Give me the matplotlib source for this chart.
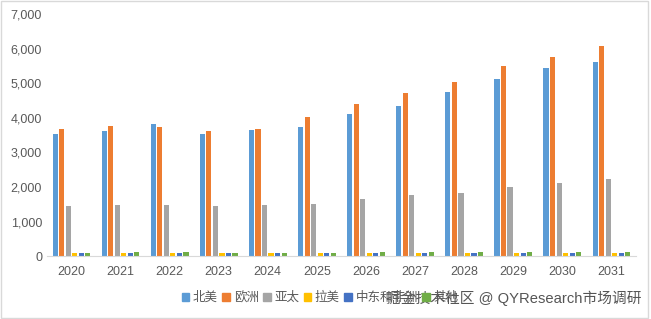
import numpy as np
import matplotlib.pyplot as plt
from matplotlib.patches import Patch, Rectangle
from matplotlib.ticker import FuncFormatter

plt.rcParams['font.family'] = ['Liberation Sans', 'Noto Sans CJK SC', 'DejaVu Sans']

years = ['2020', '2021', '2022', '2023', '2024', '2025', '2026', '2027', '2028', '2029', '2030', '2031']
regions = ['北美', '欧洲', '亚太', '拉美', '中东和非洲', '其他']

north_america = [3520, 3610, 3810, 3520, 3640, 3720, 4100, 4330, 4740, 5120, 5440, 5610]
europe = [3690, 3750, 3720, 3610, 3690, 4010, 4390, 4710, 5030, 5490, 5760, 6080]
asia_pacific = [1450, 1480, 1480, 1450, 1480, 1510, 1660, 1770, 1830, 2010, 2120, 2240]
latin_america = [85, 85, 85, 85, 85, 85, 85, 85, 90, 90, 90, 95]
middle_east_africa = [85, 85, 85, 85, 85, 85, 90, 90, 95, 95, 100, 105]
others = [105, 110, 110, 85, 85, 85, 110, 110, 115, 120, 125, 130]

series = [north_america, europe, asia_pacific, latin_america, middle_east_africa, others]
colors = ['#5B9BD5', '#ED7D31', '#A5A5A5', '#FFC000', '#4472C4', '#70AD47']

fig = plt.figure(figsize=(6.51, 3.19), dpi=100)
ax = fig.add_axes([0.072, 0.197, 0.905, 0.759])

x = np.arange(len(years))
pitch = 0.133
width = 0.105
for i, (vals, c) in enumerate(zip(series, colors)):
    ax.bar(x + (i - 2.5) * pitch, vals, width=width, color=c, label=regions[i])

ax.set_xlim(-0.5, len(years) - 0.5)
ax.set_ylim(0, 7000)
ax.set_yticks(np.arange(0, 7001, 1000))
ax.yaxis.set_major_formatter(FuncFormatter(lambda v, p: f'{int(v):,}'))
ax.set_xticks(x)
ax.set_xticklabels(years)
ax.tick_params(axis='both', length=0, labelsize=9, colors='#595959')
ax.tick_params(axis='x', pad=7)
for s in ['top', 'right', 'left']:
    ax.spines[s].set_visible(False)
ax.spines['bottom'].set_color('#D9D9D9')

handles = [Patch(color=c) for c in colors]
fig.legend(handles, regions, loc='center left', bbox_to_anchor=(0.262, 0.066),
           ncol=6, frameon=False, fontsize=9, labelcolor='#595959',
           handlelength=0.6, handleheight=0.6, handletextpad=0.3, columnspacing=0.35)

# watermark over the right part of the legend, as in the source image
fig.text(0.986, 0.066, '掘金技术社区 @ QYResearch市场调研', ha='right', va='center',
         fontsize=10.6, color='#555555')

fig.patches.append(Rectangle((0.002, 0.004), 0.994, 0.992, transform=fig.transFigure,
                             fill=False, edgecolor='#D9D9D9', linewidth=1))

fig.savefig('out.png', dpi=100)
